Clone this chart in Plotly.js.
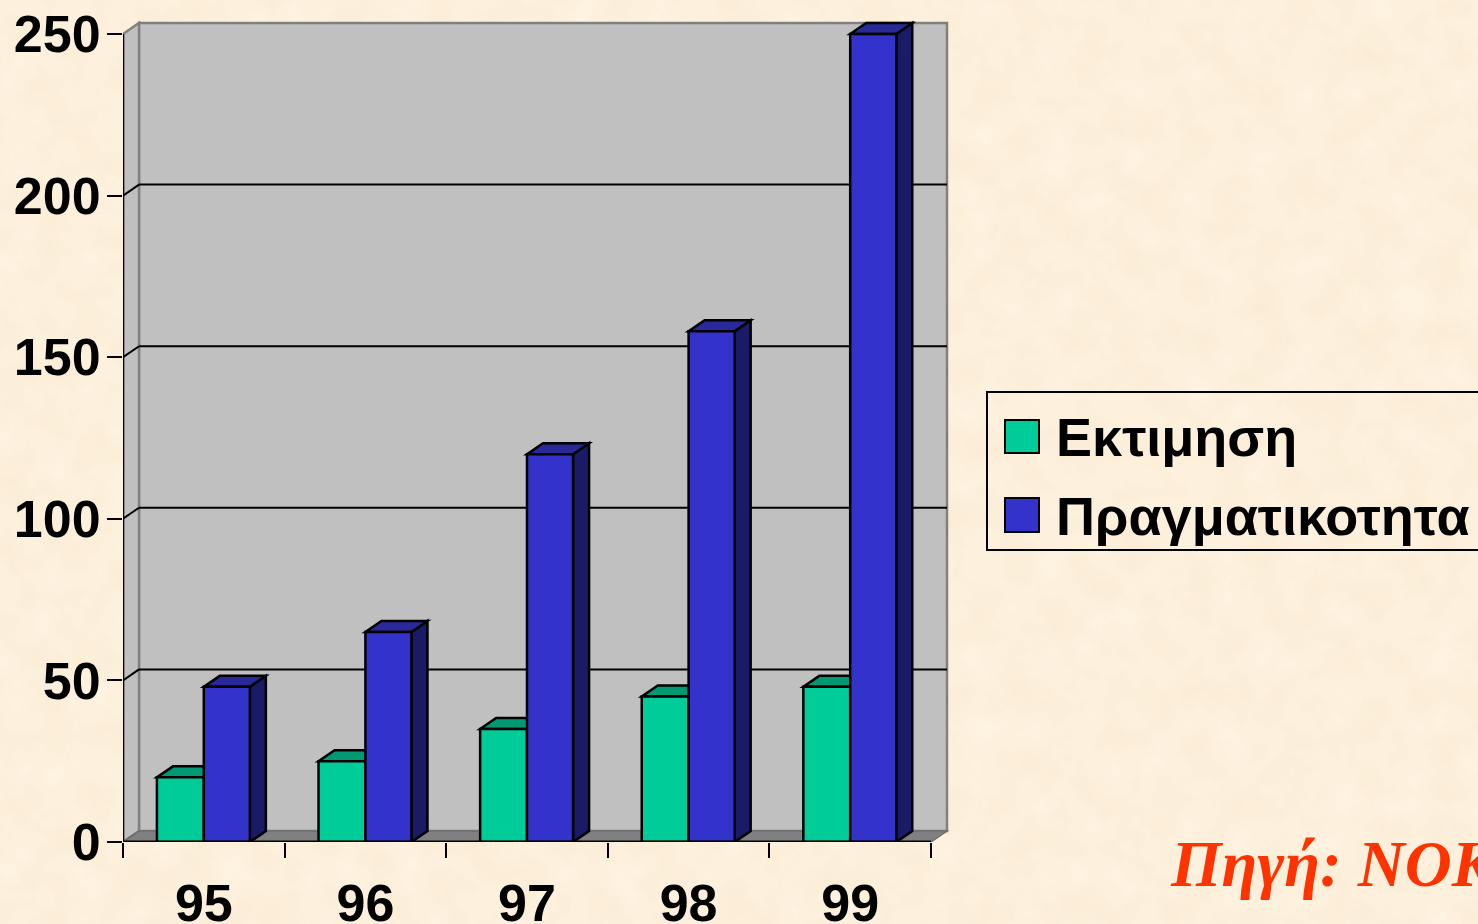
<!DOCTYPE html>
<html>
<head>
<meta charset="utf-8">
<script src="https://cdn.plot.ly/plotly-3.0.1.min.js"></script>
<style>html,body{margin:0;padding:0;background:#FCF0DB;overflow:hidden}#bg{position:absolute;left:0;top:0}#chart{position:absolute;left:0;top:0;width:1478px;height:924px}</style>
</head>
<body>
<svg id="bg" width="1478" height="924" xmlns="http://www.w3.org/2000/svg">
  <filter id="parchment" x="0" y="0" width="100%" height="100%" color-interpolation-filters="sRGB">
    <feTurbulence type="fractalNoise" baseFrequency="0.028" numOctaves="4" seed="7"/>
    <feColorMatrix type="matrix" values="0.02 0 0 0 0.98  0.04 0 0 0 0.92  0.07 0 0 0 0.825  0 0 0 0 1"/>
  </filter>
  <rect width="1478" height="924" filter="url(#parchment)"/>
</svg>
<div id="chart"></div>
<script>
const categories = ['95', '96', '97', '98', '99'];
const seriesNames = ['Εκτιμηση', 'Πραγματικοτητα'];
const estimate = [20, 25, 35, 45, 48];
const actual = [48, 65, 120, 158, 250];
const yTicks = [0, 50, 100, 150, 200, 250];
const sourceText = 'Πηγή: NOK';

const positions = categories.map((_, i) => i);
const boundaries = [-0.5, 0.5, 1.5, 2.5, 3.5, 4.5];

// layout geometry
const L = 123, R = 955, T = 10, B = 842, W = 1478, H = 924;
const unitX = 161.6, unitY = 3.232;
const depthX = 16 / unitX, depthY = 11 / unitY;
const barW = 0.29, blueW = 0.285;
const TEAL = '#00CC99', TEAL_TOP = '#009973', TEAL_SIDE = '#007A5C';
const BLUE = '#3333CC', BLUE_TOP = '#292999', BLUE_SIDE = '#1A1A66';
const WALL = '#C0C0C0', FLOOR = '#808080', EDGE = '#808080';
const px = x => (x - L) / (R - L);
const py = y => (B - y) / (B - T);

const poly = pts => 'M' + pts.map(p => p[0] + ',' + p[1]).join('L') + 'Z';
const face = (pts, fill, lineColor, lw) => ({
  type: 'path', path: poly(pts), xref: 'x', yref: 'y', layer: 'below',
  fillcolor: fill, line: {color: lineColor, width: lw}
});
const seg = (x0, y0, x1, y1, color, lw, layer) => ({
  type: 'line', xref: 'x', yref: 'y', x0, y0, x1, y1, layer: layer || 'below',
  line: {color, width: lw}
});

const xMin = boundaries[0], xMax = boundaries[boundaries.length - 1];
const yMax = yTicks[yTicks.length - 1];
const shapes = [];
// back wall, side wall, floor
shapes.push(face([[xMin + depthX, depthY], [xMax + depthX, depthY], [xMax + depthX, yMax + depthY], [xMin + depthX, yMax + depthY]], WALL, EDGE, 2.5));
shapes.push(face([[xMin, 0], [xMin + depthX, depthY], [xMin + depthX, yMax + depthY], [xMin, yMax]], WALL, EDGE, 2.5));
shapes.push(face([[xMin, 0], [xMax, 0], [xMax + depthX, depthY], [xMin + depthX, depthY]], FLOOR, '#6E6E6E', 1.5));
// gridlines on the walls
yTicks.slice(1, -1).forEach(v => {
  shapes.push(seg(xMin + depthX, v + depthY, xMax + depthX, v + depthY, '#000', 2));
  shapes.push(seg(xMin, v, xMin + depthX, v + depthY, '#000', 2));
});
// 3D faces of the bars
const addFaces = (vals, x0Off, w, top, side) => vals.forEach((v, i) => {
  const a = i + x0Off, b = a + w;
  shapes.push(face([[b, 0], [b + depthX, depthY], [b + depthX, v + depthY], [b, v]], side, '#000', 2.5));
  shapes.push(face([[a, v], [b, v], [b + depthX, v + depthY], [a + depthX, v + depthY]], top, '#000', 2.5));
});
addFaces(estimate, -barW, barW, TEAL_TOP, TEAL_SIDE);
addFaces(actual, 0, blueW, BLUE_TOP, BLUE_SIDE);
// axis lines
shapes.push(seg(xMin, 0, xMin, yMax, '#000', 2.5, 'above'));
shapes.push(seg(xMin, 0, xMax, 0, '#000', 3, 'above'));

// legend box and swatches
const paperRect = (x0, y0, x1, y1, fill, lw) => ({
  type: 'rect', xref: 'paper', yref: 'paper', x0: px(x0), x1: px(x1), y0: py(y0), y1: py(y1),
  fillcolor: fill, line: {color: '#000', width: lw}
});
shapes.push(paperRect(987, 392, 1500, 550, 'rgba(0,0,0,0)', 2));
shapes.push(paperRect(1005, 420, 1039, 453, TEAL, 2));
shapes.push(paperRect(1005, 498, 1039, 532, BLUE, 2));

const legendFont = {family: 'Liberation Sans, Arial, sans-serif', size: 54, color: '#000', weight: 700};
const annotations = [
  {text: '<b>' + seriesNames[0] + '</b>', xref: 'paper', yref: 'paper', x: px(1054), y: py(437), xanchor: 'left', yanchor: 'middle', showarrow: false, font: legendFont},
  {text: '<b>' + seriesNames[1] + '</b>', xref: 'paper', yref: 'paper', x: px(1054), y: py(516), xanchor: 'left', yanchor: 'middle', showarrow: false, font: legendFont},
  {text: '<b><i>' + sourceText + '</i></b>', xref: 'paper', yref: 'paper', x: px(1168), y: py(864), xanchor: 'left', yanchor: 'middle', showarrow: false,
   font: {family: 'Liberation Serif, Times New Roman, serif', size: 65, color: '#FF3300'}}
];

const tickFont = {family: 'Liberation Sans, Arial, sans-serif', size: 52, color: '#000', weight: 700};
const traces = [
  {type: 'bar', name: seriesNames[0], x: positions, y: estimate, width: barW, offset: -barW, marker: {color: TEAL, line: {color: '#000', width: 2.5}}},
  {type: 'bar', name: seriesNames[1], x: positions, y: actual, width: blueW, offset: 0, marker: {color: BLUE, line: {color: '#000', width: 2.5}}}
];
const layout = {
  width: W, height: H,
  margin: {l: L, r: W - R, t: T, b: H - B, pad: 0, autoexpand: false},
  paper_bgcolor: 'rgba(0,0,0,0)', plot_bgcolor: 'rgba(0,0,0,0)',
  barmode: 'overlay',
  showlegend: false, hovermode: false,
  xaxis: {
    type: 'linear', range: [xMin, xMin + (R - L) / unitX], showgrid: false, zeroline: false, showline: false,
    tickmode: 'array', tickvals: positions, ticktext: categories, ticks: '', tickfont: tickFont, ticklabelstandoff: 26,
    minor: {ticks: 'outside', ticklen: 15, tickwidth: 2, tickcolor: '#000', tickmode: 'array', tickvals: boundaries, showgrid: false}
  },
  yaxis: {
    type: 'linear', range: [0, (B - T) / unitY], showgrid: false, zeroline: false, showline: false,
    tickmode: 'array', tickvals: yTicks, ticks: 'outside', ticklen: 15, tickwidth: 2, tickcolor: '#000', tickfont: tickFont, ticklabelstandoff: -4
  },
  shapes, annotations
};
Plotly.newPlot('chart', traces, layout, {displayModeBar: false, staticPlot: true});
</script>
</body>
</html>
